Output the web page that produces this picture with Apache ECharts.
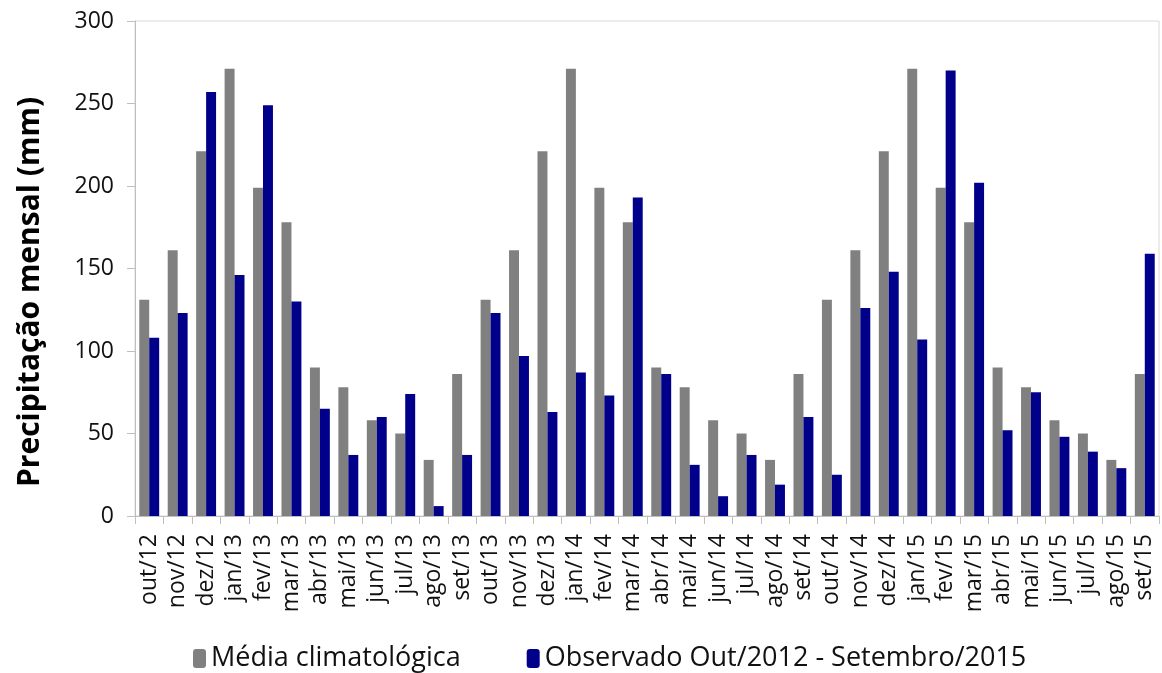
<!DOCTYPE html>
<html><head><meta charset="utf-8">
<script src="https://cdn.jsdelivr.net/npm/echarts@6/dist/echarts.min.js"></script>
<style>html,body{margin:0;padding:0;background:#fff}#c{width:1162px;height:673px}</style>
</head><body><div id="c"></div>
<script>
const categories = ["out/12","nov/12","dez/12","jan/13","fev/13","mar/13","abr/13","mai/13","jun/13","jul/13","ago/13","set/13",
"out/13","nov/13","dez/13","jan/14","fev/14","mar/14","abr/14","mai/14","jun/14","jul/14","ago/14","set/14",
"out/14","nov/14","dez/14","jan/15","fev/15","mar/15","abr/15","mai/15","jun/15","jul/15","ago/15","set/15"];
const mediaClimatologica = [131,161,221,271,199,178,90,78,58,50,34,86,
131,161,221,271,199,178,90,78,58,50,34,86,
131,161,221,271,199,178,90,78,58,50,34,86];
const observado = [108,123,257,146,249,130,65,37,60,74,6,37,
123,97,63,87,73,193,86,31,12,37,19,60,
25,126,148,107,270,202,52,75,48,39,29,159];
const yTicks = {min:0,max:300,interval:50};
const seriesNames = ["Média climatológica","Observado Out/2012 - Setembro/2015"];
const yTitle = "Precipitação mensal (mm)";

const font = "Open Sans, Liberation Sans, sans-serif";
const chart = echarts.init(document.getElementById('c'), null, {renderer:'canvas'});
chart.setOption({
  animation:false,
  textStyle:{fontFamily:font},
  grid:{left:135,right:3,top:21,bottom:157,show:true,borderColor:'#d9d9d9',borderWidth:1,containLabel:false},
  legend:{
    top:640,left:188,itemGap:66,itemWidth:13,itemHeight:19,
    textStyle:{fontFamily:font,fontSize:27,color:'#111'},
    data:seriesNames
  },
  graphic:[{
    type:'text',x:30,y:292,rotation:Math.PI/2,
    style:{text:yTitle,fontFamily:font,fontSize:30,fontWeight:'bold',fill:'#000',align:'center',verticalAlign:'middle'}
  }],
  xAxis:{
    type:'category',data:categories,boundaryGap:true,
    axisLine:{show:true,lineStyle:{color:'#bfbfbf',width:1}},
    axisTick:{show:true,length:8,alignWithLabel:false,lineStyle:{color:'#bfbfbf'}},
    axisLabel:{rotate:90,interval:0,fontFamily:font,fontSize:23,color:'#111',margin:18}
  },
  yAxis:{
    type:'value',min:yTicks.min,max:yTicks.max,interval:yTicks.interval,
    axisLine:{show:true,lineStyle:{color:'#bfbfbf',width:1}},
    axisTick:{show:true,length:8,lineStyle:{color:'#bfbfbf'}},
    splitLine:{show:false},
    axisLabel:{fontFamily:font,fontSize:23,color:'#111',margin:21}
  },
  series:[
    {name:seriesNames[0],type:'bar',data:mediaClimatologica,itemStyle:{color:'#808080'},barGap:'0%',barCategoryGap:'30%'},
    {name:seriesNames[1],type:'bar',data:observado,itemStyle:{color:'#00008b'},barGap:'0%',barCategoryGap:'30%'}
  ]
});
</script></body></html>
